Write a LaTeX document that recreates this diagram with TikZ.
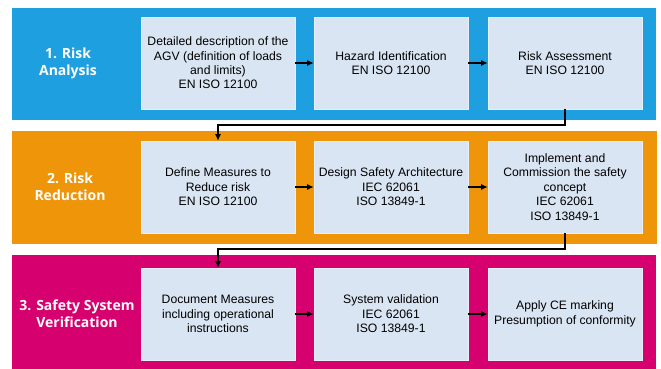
\documentclass[tikz,border=0pt]{standalone}
\usepackage{fontspec}
\setmainfont{Liberation Sans}
\newfontfamily\phasefont{Open Sans}
\usepackage{tikz}
\usetikzlibrary{arrows.meta}
\usepackage{xcolor}
\definecolor{riskblue}{HTML}{1E9FDF}
\definecolor{riskorange}{HTML}{EF9509}
\definecolor{riskmagenta}{HTML}{D6006E}
\definecolor{boxfill}{HTML}{DAE5F3}

\tikzset{
  stepbox/.style={fill=boxfill, draw=white!40!boxfill, line width=0.6pt, minimum width=154pt, minimum height=92pt, align=center, font=\fontsize{12.2}{14.4}\selectfont, inner sep=2pt},
  phase/.style={text=white, align=center, font=\phasefont\bfseries\fontsize{14}{17}\selectfont},
  flow/.style={-{Latex[length=6.5pt,width=6pt]}, line width=1.1pt, black}
}

\begin{document}
\begin{tikzpicture}[x=1pt,y=-1pt]
\useasboundingbox (0,0) rectangle (661,369);
% bands
\fill[riskblue] (12,8) rectangle (656,120);
\fill[riskorange] (12,131) rectangle (657,244);
\fill[riskmagenta] (12,255) rectangle (656,369);
% phase labels
\node[phase] (p1) at (68,63) {1. Risk\\Analysis};
\node[phase] (p2) at (70,187) {2. Risk\\Reduction};
\node[phase] (p3) at (77,314) {3. Safety System\\Verification};
% risk analysis
\node[stepbox] (a1) at (218,63) {Detailed description of the\\AGV (definition of loads\\and limits)\\EN ISO 12100};
\node[stepbox] (a2) at (391,63) {Hazard Identification\\EN ISO 12100};
\node[stepbox] (a3) at (565,63) {Risk Assessment\\EN ISO 12100};
% risk reduction
\node[stepbox] (b1) at (218,187) {Define Measures to\\Reduce risk\\EN ISO 12100};
\node[stepbox] (b2) at (391,187) {Design Safety Architecture\\IEC 62061\\ISO 13849-1};
\node[stepbox] (b3) at (565,187) {Implement and\\Commission the safety\\concept\\IEC 62061\\ISO 13849-1};
% verification
\node[stepbox] (c1) at (218,314) {Document Measures\\including operational\\instructions};
\node[stepbox] (c2) at (391,314) {System validation\\IEC 62061\\ISO 13849-1};
\node[stepbox] (c3) at (565,314) {Apply CE marking\\Presumption of conformity};
% arrows
\draw[flow] (a1) -- (a2);
\draw[flow] (a2) -- (a3);
\draw[flow] (b1) -- (b2);
\draw[flow] (b2) -- (b3);
\draw[flow] (c1) -- (c2);
\draw[flow] (c2) -- (c3);
\coordinate (t1) at (565,125);
\coordinate (t2) at (565,249);
\draw[flow] (a3.south) -- (t1) -| (b1.north);
\draw[flow] (b3.south) -- (t2) -| (c1.north);
\end{tikzpicture}
\end{document}
